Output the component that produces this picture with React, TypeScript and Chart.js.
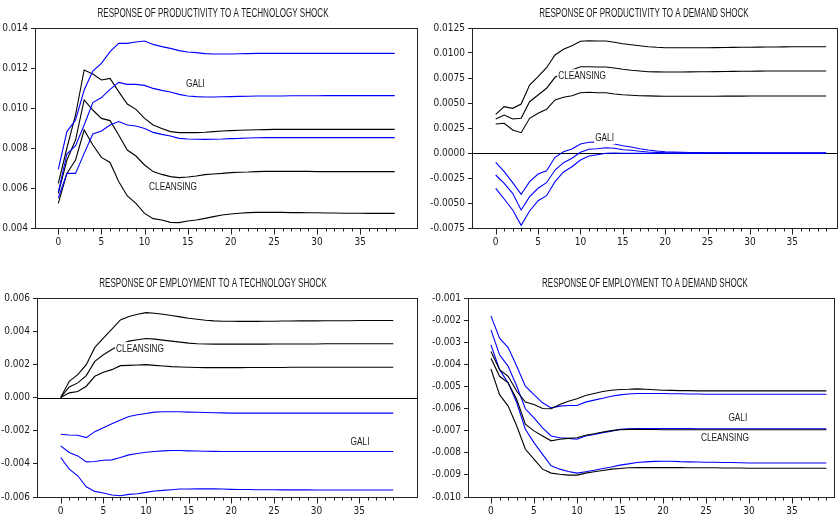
import React, { useEffect, useRef } from "react";
import { Chart, registerables } from "chart.js";

Chart.register(...registerables);

// Impulse-response horizon (quarters after the shock)
const periods: number[] = Array.from({ length: 40 }, (_, i) => i);
const xTickLabels = ["0", "5", "10", "15", "20", "25", "30", "35"];

// ---- Productivity response to a technology shock ----
const prodTechCleansingUpper = [
  0.00623, 0.0080, 0.00965, 0.0119, 0.0117, 0.0114, 0.01148, 0.01082, 0.0102, 0.00993,
  0.00948, 0.00915, 0.00898, 0.00882, 0.00877, 0.00877, 0.00877, 0.00879, 0.00882, 0.00885,
  0.00887, 0.00889, 0.0089, 0.00891, 0.00892, 0.00893, 0.00893, 0.00893, 0.00893, 0.00893,
  0.00893, 0.00893, 0.00893, 0.00893, 0.00893, 0.00893, 0.00893, 0.00893, 0.00893, 0.00893,
];
const prodTechCleansing = [
  0.00573, 0.0074, 0.0084, 0.0104, 0.0099, 0.00948, 0.00937, 0.00865, 0.0079, 0.0076,
  0.00715, 0.00682, 0.00668, 0.00657, 0.00652, 0.00655, 0.0066, 0.00667, 0.0067, 0.00673,
  0.00677, 0.00679, 0.0068, 0.00682, 0.00683, 0.00683, 0.00683, 0.00683, 0.00683, 0.00683,
  0.00682, 0.00682, 0.00682, 0.00682, 0.00682, 0.00682, 0.00682, 0.00682, 0.00682, 0.00682,
];
const prodTechCleansingLower = [
  0.00523, 0.00673, 0.0074, 0.0089, 0.00815, 0.00753, 0.00728, 0.00632, 0.0056, 0.00523,
  0.00473, 0.00447, 0.0044, 0.00428, 0.00427, 0.00435, 0.0044, 0.00448, 0.00457, 0.00465,
  0.0047, 0.00474, 0.00477, 0.00478, 0.00478, 0.00478, 0.00478, 0.00477, 0.00477, 0.00476,
  0.00476, 0.00475, 0.00475, 0.00474, 0.00474, 0.00474, 0.00473, 0.00473, 0.00473, 0.00473,
];
const prodTechGaliUpper = [
  0.00693, 0.00882, 0.0094, 0.0109, 0.01185, 0.01223, 0.01282, 0.01323, 0.01323, 0.0133,
  0.01335, 0.01318, 0.01307, 0.01298, 0.01287, 0.0128, 0.01277, 0.01272, 0.0127, 0.0127,
  0.0127, 0.01271, 0.01272, 0.01273, 0.01273, 0.01273, 0.01273, 0.01273, 0.01273, 0.01273,
  0.01273, 0.01273, 0.01273, 0.01273, 0.01273, 0.01273, 0.01273, 0.01273, 0.01273, 0.01273,
];
const prodTechGali = [
  0.0058, 0.0077, 0.00812, 0.00915, 0.01027, 0.01052, 0.01093, 0.01128, 0.01118, 0.01118,
  0.01113, 0.01098, 0.01088, 0.0108, 0.01068, 0.0106, 0.01057, 0.01055, 0.01055, 0.01056,
  0.01057, 0.01058, 0.01059, 0.0106, 0.0106, 0.0106, 0.0106, 0.01061, 0.01061, 0.01061,
  0.01061, 0.01062, 0.01062, 0.01062, 0.01062, 0.01062, 0.01062, 0.01062, 0.01062, 0.01062,
];
const prodTechGaliLower = [
  0.0055, 0.00673, 0.00673, 0.00773, 0.0087, 0.00885, 0.00915, 0.00932, 0.00915, 0.0091,
  0.00898, 0.00878, 0.00868, 0.0086, 0.00848, 0.00845, 0.00844, 0.00843, 0.00844, 0.00845,
  0.00847, 0.00848, 0.0085, 0.00851, 0.00852, 0.00852, 0.00852, 0.00852, 0.00852, 0.00852,
  0.00852, 0.00852, 0.00852, 0.00852, 0.00852, 0.00852, 0.00852, 0.00852, 0.00852, 0.00852,
];

// ---- Productivity response to a demand shock ----
const prodDemCleansingUpper = [
  0.00387, 0.00463, 0.00447, 0.0049, 0.0068, 0.00763, 0.00853, 0.0098, 0.01037, 0.01073,
  0.01117, 0.01123, 0.0112, 0.0112, 0.01107, 0.01093, 0.01083, 0.01073, 0.01063, 0.01057,
  0.01053, 0.01052, 0.01052, 0.01052, 0.01053, 0.01053, 0.01054, 0.01055, 0.01056, 0.01057,
  0.01058, 0.01059, 0.0106, 0.0106, 0.01061, 0.01062, 0.01062, 0.01063, 0.01063, 0.01063,
];
const prodDemCleansing = [
  0.0034, 0.0038, 0.0034, 0.00347, 0.00513, 0.0058, 0.00647, 0.00757, 0.008, 0.0083,
  0.00863, 0.00863, 0.0086, 0.0086, 0.0085, 0.00837, 0.00827, 0.0082, 0.00813, 0.00811,
  0.0081, 0.0081, 0.0081, 0.00811, 0.00812, 0.00813, 0.00814, 0.00815, 0.00816, 0.00817,
  0.00818, 0.00819, 0.0082, 0.0082, 0.0082, 0.0082, 0.0082, 0.0082, 0.0082, 0.0082,
];
const prodDemCleansingLower = [
  0.0029, 0.00297, 0.0023, 0.00203, 0.00347, 0.00397, 0.00437, 0.0053, 0.00557, 0.00573,
  0.00603, 0.00607, 0.00603, 0.00603, 0.0059, 0.00583, 0.00578, 0.00573, 0.00571, 0.00569,
  0.00567, 0.00567, 0.00567, 0.00567, 0.00568, 0.00568, 0.00568, 0.00569, 0.00569, 0.00569,
  0.0057, 0.0057, 0.0057, 0.0057, 0.0057, 0.0057, 0.0057, 0.0057, 0.0057, 0.0057,
];
const prodDemGaliUpper = [
  -0.00093, -0.00187, -0.00297, -0.00413, -0.00287, -0.0021, -0.00177, -0.00043, 0.00013, 0.0004,
  0.0009, 0.00107, 0.0011, 0.00105, 0.0009, 0.00073, 0.0006, 0.00043, 0.0003, 0.0002,
  0.00013, 0.0001, 0.00007, 0.00005, 0.00004, 0.00003, 0.00002, 0.00002, 0.00001, 0.00001,
  0.00001, 0.0, 0.0, 0.0, 0.0, 0.0, 0.0, 0.0, 0.0, 0.0,
];
const prodDemGali = [
  -0.0022, -0.00303, -0.00403, -0.0057, -0.00437, -0.00353, -0.00297, -0.0017, -0.00097, -0.00053,
  0.00007, 0.00037, 0.00043, 0.00053, 0.00047, 0.00033, 0.00027, 0.00017, 0.0001, 0.00006,
  0.00003, 0.00002, 0.00001, 0.0, 0.0, 0.0, 0.0, 0.0, 0.0, 0.0,
  0.0, 0.0, 0.0, 0.0, 0.0, 0.0, 0.0, 0.0, 0.0, 0.0,
];
const prodDemGaliLower = [
  -0.00353, -0.0046, -0.0057, -0.00723, -0.0058, -0.00477, -0.00427, -0.00287, -0.0019, -0.00137,
  -0.0007, -0.0003, -0.00017, -0.00003, 0.0, -0.00003, -0.00004, -0.00004, -0.00004, -0.00003,
  -0.00003, -0.00002, -0.00002, -0.00001, -0.00001, 0.0, 0.0, 0.0, 0.0, 0.0,
  0.0, 0.0, 0.0, 0.0, 0.0, 0.0, 0.0, 0.0, 0.0, 0.0,
];

// ---- Employment response to a technology shock ----
const empTechCleansingUpper = [
  0.0, 0.00098, 0.00138, 0.00198, 0.00302, 0.00358, 0.00412, 0.00468, 0.00488, 0.00502,
  0.00512, 0.00508, 0.00502, 0.00494, 0.00486, 0.00478, 0.00472, 0.00466, 0.00462, 0.0046,
  0.0046, 0.00459, 0.00459, 0.00459, 0.0046, 0.0046, 0.00461, 0.00461, 0.00462, 0.00462,
  0.00462, 0.00463, 0.00463, 0.00463, 0.00463, 0.00464, 0.00464, 0.00464, 0.00464, 0.00464,
];
const empTechCleansing = [
  0.0, 0.00064, 0.00088, 0.00132, 0.00218, 0.00258, 0.0029, 0.0032, 0.0034, 0.00348,
  0.00356, 0.00352, 0.00346, 0.0034, 0.00334, 0.00328, 0.00324, 0.00323, 0.00322, 0.00322,
  0.00322, 0.00322, 0.00322, 0.00322, 0.00322, 0.00323, 0.00323, 0.00323, 0.00323, 0.00323,
  0.00323, 0.00324, 0.00324, 0.00324, 0.00324, 0.00324, 0.00324, 0.00324, 0.00324, 0.00324,
];
const empTechCleansingLower = [
  0.0, 0.00028, 0.00036, 0.00068, 0.00128, 0.00152, 0.00168, 0.00192, 0.00194, 0.00196,
  0.00198, 0.00194, 0.0019, 0.00186, 0.00184, 0.00182, 0.00181, 0.0018, 0.0018, 0.0018,
  0.0018, 0.0018, 0.00181, 0.00181, 0.00181, 0.00181, 0.00181, 0.00182, 0.00182, 0.00182,
  0.00182, 0.00182, 0.00182, 0.00182, 0.00182, 0.00182, 0.00182, 0.00182, 0.00182, 0.00182,
];
const empTechGaliUpper = [
  -0.00222, -0.00226, -0.00228, -0.00242, -0.00206, -0.00182, -0.00158, -0.00136, -0.00114, -0.00104,
  -0.00096, -0.00088, -0.00086, -0.00086, -0.00086, -0.00088, -0.00089, -0.0009, -0.00092, -0.00093,
  -0.00094, -0.00094, -0.00094, -0.00094, -0.00094, -0.00094, -0.00094, -0.00094, -0.00094, -0.00094,
  -0.00094, -0.00094, -0.00094, -0.00094, -0.00094, -0.00094, -0.00094, -0.00094, -0.00094, -0.00094,
];
const empTechGali = [
  -0.00292, -0.00332, -0.00352, -0.00388, -0.00386, -0.00378, -0.00376, -0.00362, -0.00346, -0.00338,
  -0.0033, -0.00326, -0.00322, -0.0032, -0.0032, -0.00322, -0.00323, -0.00324, -0.00325, -0.00326,
  -0.00326, -0.00326, -0.00326, -0.00326, -0.00326, -0.00326, -0.00326, -0.00326, -0.00326, -0.00326,
  -0.00326, -0.00326, -0.00326, -0.00326, -0.00326, -0.00326, -0.00326, -0.00326, -0.00326, -0.00326,
];
const empTechGaliLower = [
  -0.00362, -0.00432, -0.00472, -0.00538, -0.00566, -0.00576, -0.00588, -0.00592, -0.00584, -0.0058,
  -0.00572, -0.00564, -0.0056, -0.00556, -0.00552, -0.00552, -0.00551, -0.0055, -0.00551, -0.00552,
  -0.00554, -0.00555, -0.00555, -0.00556, -0.00556, -0.00556, -0.00557, -0.00557, -0.00557, -0.00557,
  -0.00558, -0.00558, -0.00558, -0.00558, -0.00558, -0.00558, -0.00558, -0.00558, -0.00558, -0.00558,
];

// ---- Employment response to a demand shock ----
const empDemGaliUpper = [
  -0.00181, -0.00282, -0.00324, -0.00409, -0.00499, -0.00537, -0.00574, -0.00597, -0.00589, -0.00586,
  -0.00586, -0.00571, -0.00562, -0.00553, -0.00544, -0.00538, -0.00534, -0.00532, -0.00532, -0.00532,
  -0.00532, -0.00533, -0.00533, -0.00534, -0.00534, -0.00535, -0.00535, -0.00535, -0.00535, -0.00535,
  -0.00535, -0.00535, -0.00535, -0.00535, -0.00535, -0.00535, -0.00535, -0.00535, -0.00535, -0.00535,
];
const empDemCleansingUpper = [
  -0.00342, -0.00424, -0.00454, -0.00522, -0.00571, -0.00582, -0.006, -0.00601, -0.00582, -0.00567,
  -0.00556, -0.00541, -0.00532, -0.00523, -0.00517, -0.00514, -0.00513, -0.00511, -0.00513, -0.00515,
  -0.00517, -0.00518, -0.00519, -0.00519, -0.0052, -0.0052, -0.0052, -0.0052, -0.0052, -0.0052,
  -0.0052, -0.0052, -0.0052, -0.0052, -0.0052, -0.0052, -0.0052, -0.0052, -0.0052, -0.0052,
];
const empDemGali = [
  -0.00244, -0.00357, -0.00409, -0.00499, -0.00601, -0.00642, -0.00687, -0.00724, -0.00732, -0.00735,
  -0.00739, -0.00724, -0.00717, -0.00709, -0.00702, -0.00694, -0.00691, -0.0069, -0.0069, -0.0069,
  -0.0069, -0.0069, -0.0069, -0.0069, -0.00691, -0.00691, -0.00691, -0.00691, -0.00691, -0.00691,
  -0.00691, -0.00691, -0.00691, -0.00691, -0.00691, -0.00691, -0.00691, -0.00691, -0.00691, -0.00691,
];
const empDemCleansing = [
  -0.00372, -0.00454, -0.00484, -0.00559, -0.00671, -0.00701, -0.00724, -0.00746, -0.00739, -0.00735,
  -0.00732, -0.00721, -0.00714, -0.00706, -0.007, -0.00696, -0.00694, -0.00694, -0.00695, -0.00695,
  -0.00696, -0.00696, -0.00696, -0.00696, -0.00696, -0.00696, -0.00696, -0.00696, -0.00696, -0.00696,
  -0.00696, -0.00696, -0.00696, -0.00696, -0.00696, -0.00696, -0.00696, -0.00696, -0.00696, -0.00696,
];
const empDemGaliLower = [
  -0.00312, -0.00424, -0.00484, -0.00574, -0.00694, -0.00754, -0.00807, -0.00859, -0.00874, -0.00885,
  -0.00892, -0.00886, -0.00879, -0.00871, -0.00864, -0.00856, -0.0085, -0.00844, -0.00841, -0.00839,
  -0.00838, -0.00838, -0.0084, -0.00841, -0.00842, -0.00843, -0.00843, -0.00844, -0.00844, -0.00845,
  -0.00846, -0.00846, -0.00846, -0.00846, -0.00846, -0.00846, -0.00846, -0.00846, -0.00846, -0.00846,
];
const empDemCleansingLower = [
  -0.00421, -0.00537, -0.00589, -0.00679, -0.00784, -0.00829, -0.00874, -0.00892, -0.00897, -0.00901,
  -0.00901, -0.00892, -0.00886, -0.0088, -0.00874, -0.00871, -0.00868, -0.00867, -0.00867, -0.00867,
  -0.00867, -0.00867, -0.00867, -0.00868, -0.00868, -0.00868, -0.00868, -0.00869, -0.00869, -0.00869,
  -0.0087, -0.0087, -0.0087, -0.0087, -0.0087, -0.0087, -0.0087, -0.0087, -0.0087, -0.0087,
];

// Y-axis tick labels for each panel
const prodTechYTicks = ["0.004", "0.006", "0.008", "0.010", "0.012", "0.014"];
const prodDemYTicks = ["-0.0075", "-0.0050", "-0.0025", "0.0000", "0.0025", "0.0050", "0.0075", "0.0100", "0.0125"];
const empTechYTicks = ["-0.006", "-0.004", "-0.002", "0.000", "0.002", "0.004", "0.006"];
const empDemYTicks = ["-0.010", "-0.009", "-0.008", "-0.007", "-0.006", "-0.005", "-0.004", "-0.003", "-0.002", "-0.001"];

const BLACK = "#000000";
const BLUE = "#0000ff";
const TEXT = "#1a1a1a";
const TICK_FONT = "'Liberation Sans Narrow', 'Arial Narrow', 'DejaVu Sans Condensed', 'Liberation Sans', sans-serif";
const DRAW_FONT = "'Liberation Sans', Arial, sans-serif";

type Series = { data: number[]; color: string };
type Note = { text: string; x: number; y: number };
type Panel = {
  title: string;
  box: { left: number; top: number; width: number; height: number };
  area: { left: number; right: number; top: number; bottom: number };
  titleAt: { x: number; y: number };
  xMin: number;
  xMax: number;
  yTicks: string[];
  zeroLine: boolean;
  series: Series[];
  notes: Note[];
};

const panels: Panel[] = [
  {
    title: "RESPONSE OF PRODUCTIVITY TO A TECHNOLOGY SHOCK",
    box: { left: 0, top: 0, width: 420, height: 258 },
    area: { left: 35, right: 418, top: 28, bottom: 228 },
    titleAt: { x: 213, y: 14 },
    xMin: -2.7,
    xMax: 41.7,
    yTicks: prodTechYTicks,
    zeroLine: false,
    series: [
      { data: prodTechGaliUpper, color: BLUE },
      { data: prodTechGali, color: BLUE },
      { data: prodTechGaliLower, color: BLUE },
      { data: prodTechCleansingUpper, color: BLACK },
      { data: prodTechCleansing, color: BLACK },
      { data: prodTechCleansingLower, color: BLACK },
    ],
    notes: [
      { text: "GALI", x: 15.9, y: 0.0112 },
      { text: "CLEANSING", x: 13.3, y: 0.00605 },
    ],
  },
  {
    title: "RESPONSE OF PRODUCTIVITY TO A DEMAND SHOCK",
    box: { left: 420, top: 0, width: 420, height: 258 },
    area: { left: 52, right: 418, top: 28, bottom: 228 },
    titleAt: { x: 224, y: 14 },
    xMin: -2.8,
    xMax: 40.4,
    yTicks: prodDemYTicks,
    zeroLine: true,
    series: [
      { data: prodDemCleansingUpper, color: BLACK },
      { data: prodDemCleansing, color: BLACK },
      { data: prodDemCleansingLower, color: BLACK },
      { data: prodDemGaliUpper, color: BLUE },
      { data: prodDemGali, color: BLUE },
      { data: prodDemGaliLower, color: BLUE },
    ],
    notes: [
      { text: "CLEANSING", x: 10.2, y: 0.0077 },
      { text: "GALI", x: 12.85, y: 0.00155 },
    ],
  },
  {
    title: "RESPONSE OF EMPLOYMENT TO A TECHNOLOGY SHOCK",
    box: { left: 0, top: 258, width: 420, height: 259 },
    area: { left: 37, right: 418, top: 40, bottom: 239 },
    titleAt: { x: 213, y: 26 },
    xMin: -2.78,
    xMax: 41.9,
    yTicks: empTechYTicks,
    zeroLine: true,
    series: [
      { data: empTechCleansingUpper, color: BLACK },
      { data: empTechCleansing, color: BLACK },
      { data: empTechCleansingLower, color: BLACK },
      { data: empTechGaliUpper, color: BLUE },
      { data: empTechGali, color: BLUE },
      { data: empTechGaliLower, color: BLUE },
    ],
    notes: [
      { text: "CLEANSING", x: 9.3, y: 0.00293 },
      { text: "GALI", x: 35.1, y: -0.00267 },
    ],
  },
  {
    title: "RESPONSE OF EMPLOYMENT TO A DEMAND SHOCK",
    box: { left: 420, top: 258, width: 420, height: 259 },
    area: { left: 48, right: 415, top: 40, bottom: 239 },
    titleAt: { x: 225, y: 26 },
    xMin: -2.67,
    xMax: 40.0,
    yTicks: empDemYTicks,
    zeroLine: false,
    series: [
      { data: empDemCleansingUpper, color: BLACK },
      { data: empDemCleansing, color: BLACK },
      { data: empDemCleansingLower, color: BLACK },
      { data: empDemGaliUpper, color: BLUE },
      { data: empDemGali, color: BLUE },
      { data: empDemGaliLower, color: BLUE },
    ],
    notes: [
      { text: "GALI", x: 28.7, y: -0.00642 },
      { text: "CLEANSING", x: 27.2, y: -0.00732 },
    ],
  },
];

// Draws a horizontally condensed string, optionally on a white patch
function condensedText(
  ctx: CanvasRenderingContext2D,
  text: string,
  cx: number,
  cy: number,
  size: number,
  squeeze: number,
  background: boolean
) {
  ctx.save();
  ctx.font = `${size}px ${DRAW_FONT}`;
  const w = ctx.measureText(text).width * squeeze;
  if (background) {
    ctx.fillStyle = "#ffffff";
    ctx.fillRect(cx - w / 2 - 1, cy - size / 2 - 1, w + 2, size + 2);
  }
  ctx.translate(cx, cy);
  ctx.scale(squeeze, 1);
  ctx.fillStyle = TEXT;
  ctx.textAlign = "center";
  ctx.textBaseline = "middle";
  ctx.fillText(text, 0, 0);
  ctx.restore();
}

// Frame, zero line, x tick marks, in-plot notes and the panel title
const decorPlugin = {
  id: "irfDecor",
  beforeDatasetsDraw(chart: any, _args: any, opts: any) {
    if (!opts.zeroLine) return;
    const { ctx, chartArea } = chart;
    const y = Math.round(chart.scales.y.getPixelForValue(0)) + 0.5;
    ctx.save();
    ctx.strokeStyle = BLACK;
    ctx.lineWidth = 1;
    ctx.beginPath();
    ctx.moveTo(chartArea.left, y);
    ctx.lineTo(chartArea.right, y);
    ctx.stroke();
    ctx.restore();
  },
  afterDatasetsDraw(chart: any, _args: any, opts: any) {
    const { ctx, chartArea, scales } = chart;
    for (const n of opts.notes as Note[]) {
      condensedText(ctx, n.text, scales.x.getPixelForValue(n.x), scales.y.getPixelForValue(n.y), 11.5, 0.72, true);
    }
    ctx.save();
    ctx.strokeStyle = "#222";
    ctx.lineWidth = 1;
    const l = Math.round(chartArea.left) + 0.5;
    const r = Math.round(chartArea.right) - 0.5;
    const t = Math.round(chartArea.top) + 0.5;
    const b = Math.round(chartArea.bottom) + 0.5;
    ctx.strokeRect(l, t, r - l, b - t);
    ctx.beginPath();
    for (const p of periods) {
      const x = Math.round(scales.x.getPixelForValue(p)) + 0.5;
      const len = p % 5 === 0 ? 6 : 3;
      ctx.moveTo(x, b);
      ctx.lineTo(x, b + len);
    }
    ctx.stroke();
    ctx.restore();
    condensedText(ctx, opts.title, opts.titleAt.x, opts.titleAt.y, 12.5, 0.645, false);
  },
};

function IrfPanel({ panel }: { panel: Panel }) {
  const ref = useRef<HTMLCanvasElement | null>(null);

  useEffect(() => {
    if (!ref.current) return;
    const { box, area } = panel;
    const yValues = panel.yTicks.map(Number);
    const chart = new Chart(ref.current, {
      type: "line",
      data: {
        datasets: panel.series.map((s) => ({
          data: periods.map((p, i) => ({ x: p, y: s.data[i] })),
          borderColor: s.color,
          borderWidth: 1.1,
          pointRadius: 0,
          tension: 0,
          fill: false,
        })),
      },
      options: {
        responsive: false,
        animation: false,
        events: [],
        layout: { padding: { top: area.top, right: box.width - area.right, left: 0, bottom: 0 } },
        plugins: {
          legend: { display: false },
          tooltip: { enabled: false },
          irfDecor: {
            zeroLine: panel.zeroLine,
            notes: panel.notes,
            title: panel.title,
            titleAt: panel.titleAt,
          },
        } as any,
        scales: {
          x: {
            type: "linear",
            min: panel.xMin,
            max: panel.xMax,
            afterBuildTicks: (scale: any) => {
              scale.ticks = periods.map((p) => ({ value: p }));
            },
            afterFit: (scale: any) => {
              scale.height = box.height - area.bottom;
            },
            grid: { display: false, drawTicks: true, tickLength: 6 },
            border: { display: false },
            ticks: {
              autoSkip: false,
              maxRotation: 0,
              padding: 2,
              color: TEXT,
              font: { family: TICK_FONT, size: 10 },
              callback: (v: any) => {
                const s = String(v);
                return xTickLabels.includes(s) ? s : "";
              },
            },
          },
          y: {
            type: "linear",
            min: yValues[0],
            max: yValues[yValues.length - 1],
            afterBuildTicks: (scale: any) => {
              scale.ticks = yValues.map((v) => ({ value: v }));
            },
            afterFit: (scale: any) => {
              scale.width = area.left;
            },
            grid: { drawOnChartArea: false, drawTicks: true, tickLength: 4, color: "#222" },
            border: { display: false },
            ticks: {
              padding: 3,
              color: TEXT,
              font: { family: TICK_FONT, size: 10 },
              callback: (_v: any, i: number) => panel.yTicks[i],
            },
          },
        },
      },
      plugins: [decorPlugin as any],
    });
    return () => chart.destroy();
  }, [panel]);

  const { box } = panel;
  return (
    <canvas
      ref={ref}
      width={box.width}
      height={box.height}
      style={{
        position: "absolute",
        left: box.left,
        top: box.top,
        width: box.width,
        height: box.height,
      }}
    />
  );
}

export default function App() {
  return (
    <div
      style={{
        position: "absolute",
        left: 0,
        top: 0,
        width: 840,
        height: 517,
        background: "#ffffff",
        overflow: "hidden",
      }}
    >
      {panels.map((p) => (
        <IrfPanel key={p.title} panel={p} />
      ))}
    </div>
  );
}
